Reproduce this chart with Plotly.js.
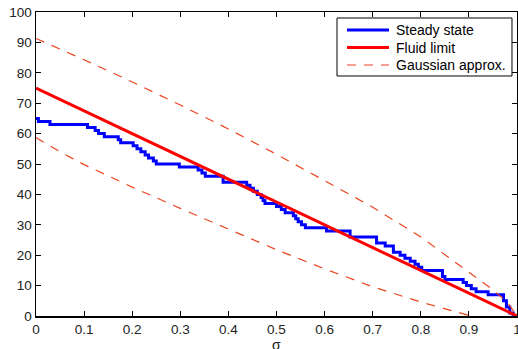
<!DOCTYPE html>
<html>
<head>
<meta charset="utf-8">
<script src="https://cdn.plot.ly/plotly-3.0.1.min.js"></script>
<style>html,body{margin:0;padding:0;background:#fff;}#chart{width:518px;height:349px;}</style>
</head>
<body>
<div id="chart"></div>
<script>
// Steady state (step function): x where each level starts, and the level
const steadyX = [0, 0.005, 0.029, 0.107, 0.123, 0.13, 0.142, 0.171, 0.176, 0.202, 0.21, 0.218, 0.227, 0.234, 0.244, 0.25, 0.298, 0.337, 0.345, 0.352, 0.389, 0.438, 0.445, 0.452, 0.46, 0.468, 0.472, 0.476, 0.5, 0.51, 0.518, 0.535, 0.54, 0.545, 0.552, 0.56, 0.604, 0.653, 0.708, 0.726, 0.743, 0.757, 0.767, 0.778, 0.788, 0.795, 0.802, 0.845, 0.85, 0.888, 0.895, 0.905, 0.915, 0.94, 0.972, 0.978, 0.985, 0.992, 1];
const steadyY = [65, 64, 63, 62, 61, 60, 59, 58, 57, 56, 55, 54, 53, 52, 51, 50, 49, 48, 47, 46, 44, 43, 42, 41, 40, 39, 38, 37, 36, 35, 34, 33, 32, 31, 30, 29, 28, 26, 24, 23, 21, 20, 19, 18, 17, 16, 15, 13, 12, 11, 10, 9, 8, 7, 5, 3, 1, 0, 0];

// Fluid limit
const fluidX = [0, 1];
const fluidY = [75, 0];

// Gaussian approximation bands
const upperX = [0, 0.1, 0.2, 0.3, 0.4, 0.5, 0.6, 0.7, 0.8, 0.9, 0.95, 0.98, 1];
const upperY = [91.3, 84.3, 77.0, 69.4, 61.5, 53.2, 44.5, 35.8, 26.0, 14.2, 8.6, 4.5, 0];
const lowerX = [0, 0.05, 0.1, 0.2, 0.3, 0.4, 0.5, 0.6, 0.7, 0.8, 0.9, 0.95];
const lowerY = [58.7, 54.0, 49.8, 42.4, 35.4, 28.5, 21.8, 15.5, 9.6, 4.6, 0.1, -2.0];

const tickVals = [0, 0.1, 0.2, 0.3, 0.4, 0.5, 0.6, 0.7, 0.8, 0.9, 1];
const tickText = ['0', '0.1', '0.2', '0.3', '0.4', '0.5', '0.6', '0.7', '0.8', '0.9', '1'];
const yTickVals = [0, 10, 20, 30, 40, 50, 60, 70, 80, 90, 100];
const xTitle = 'σ';

// Legend entries
const legendNames = ['Steady state', 'Fluid limit', 'Gaussian approx.'];

const blue = '#0000ff', red = '#ff0000', dashColor = '#ea4520';
const dashPat = '9px,8px';
const font = 'Liberation Sans, Arial, Helvetica, sans-serif';

const traces = [
  {x: steadyX, y: steadyY, name: legendNames[0], mode: 'lines', line: {color: blue, width: 3, shape: 'hv'}},
  {x: fluidX, y: fluidY, name: legendNames[1], mode: 'lines', line: {color: red, width: 3}},
  {x: upperX, y: upperY, name: legendNames[2], mode: 'lines', line: {color: dashColor, width: 1.2, dash: dashPat}},
  {x: lowerX, y: lowerY, name: legendNames[2], mode: 'lines', line: {color: dashColor, width: 1.2, dash: dashPat}}
];

const axisCommon = {
  showline: true, linecolor: '#000', linewidth: 1.5, mirror: 'ticks',
  ticks: 'inside', ticklen: 5, tickcolor: '#000', tickwidth: 1,
  showgrid: false, zeroline: false, ticklabeloverflow: 'allow',
  tickfont: {family: font, size: 13.5, color: '#222'}
};

// Legend box drawn in paper coordinates (MATLAB-style legend)
const boxL = 0.6258, boxR = 0.9896, boxT = 0.9803, boxB = 0.7895;
const rowY = [0.9408, 0.8832, 0.8257];
const sampL = 0.6466, sampR = 0.7339, textL = 0.7443;
const sampleStyles = [
  {color: blue, width: 3},
  {color: red, width: 3},
  {color: dashColor, width: 1.2, dash: dashPat}
];

const shapes = [
  {type: 'rect', xref: 'paper', yref: 'paper', x0: boxL, x1: boxR, y0: boxB, y1: boxT,
   line: {color: '#000', width: 1}, fillcolor: '#fff', layer: 'above'}
];
const annotations = [];
legendNames.forEach((nm, i) => {
  shapes.push({type: 'line', xref: 'paper', yref: 'paper', x0: sampL, x1: sampR, y0: rowY[i], y1: rowY[i],
    line: sampleStyles[i], layer: 'above'});
  annotations.push({xref: 'paper', yref: 'paper', x: textL, y: rowY[i], xanchor: 'left', yanchor: 'middle',
    text: nm, showarrow: false, font: {family: font, size: 14, color: '#000'}});
});
// x-axis label, sitting low at the bottom edge as in the original
annotations.push({xref: 'paper', yref: 'paper', x: 0.5, y: -0.094, xanchor: 'center', yanchor: 'middle',
  text: xTitle, showarrow: false, font: {family: font, size: 14, color: '#222'}});

const layout = {
  width: 518, height: 349,
  margin: {l: 36, r: 1, t: 12, b: 33},
  paper_bgcolor: '#fff', plot_bgcolor: '#fff',
  showlegend: false,
  xaxis: Object.assign({}, axisCommon, {range: [0, 1], tickvals: tickVals, ticktext: tickText}),
  yaxis: Object.assign({}, axisCommon, {range: [0, 100], tickvals: yTickVals}),
  shapes: shapes,
  annotations: annotations
};

Plotly.newPlot('chart', traces, layout, {staticPlot: true, displayModeBar: false});
</script>
</body>
</html>
